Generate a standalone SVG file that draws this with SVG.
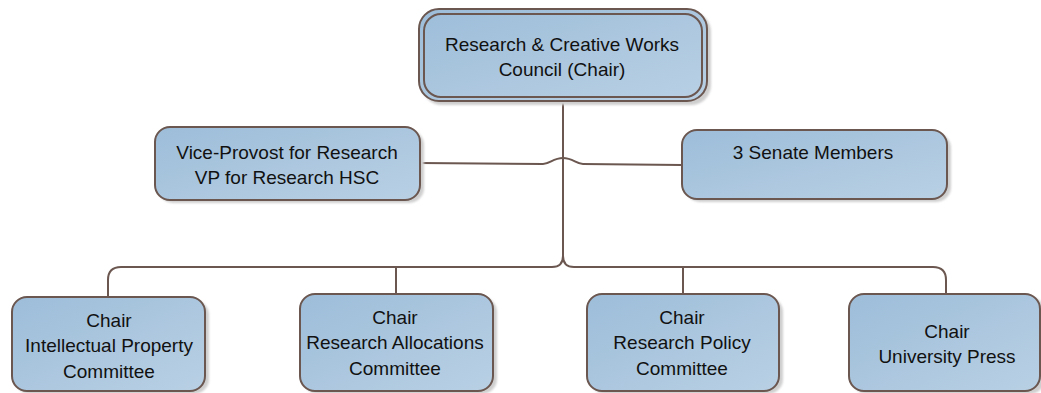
<svg xmlns="http://www.w3.org/2000/svg" width="1041" height="393" viewBox="0 0 1041 393">
<defs>
<linearGradient id="g" x1="0" y1="0" x2="1" y2="1">
<stop offset="0" stop-color="#9dbdd9"/>
<stop offset="1" stop-color="#b9d0e4"/>
</linearGradient>
<filter id="sh" x="-5%" y="-5%" width="115%" height="125%">
<feGaussianBlur stdDeviation="1.2"/>
</filter>
</defs>
<style>
.sh{fill:#cfcfcf;filter:url(#sh)}
.box{fill:url(#g);stroke:#6b5750;stroke-width:2}
.ln{fill:none;stroke:#6b5750;stroke-width:2}
text{font-family:"Liberation Sans",Arial,sans-serif;font-size:19px;fill:#111;text-anchor:middle}
</style>
<rect width="1041" height="393" fill="#ffffff"/>
<g id="connectors">
<path class="ln" d="M563,80 V256"/>
<path class="ln" d="M420,163 L543,164 C550,164 553,158 563,158 C573,158 576,164 583,164 L682,165"/>
<path class="ln" d="M108,296 V280 Q108,267 121,267 H552 Q563,267 563,256 Q563,267 574,267 H933 Q946,267 946,280 V294"/>
<path class="ln" d="M396,267 V294"/>
<path class="ln" d="M683,267 V294"/>
</g>
<g id="n-council">
<rect class="sh" x="422" y="12" width="289" height="93" rx="20"/>
<rect class="box" x="419" y="9" width="288" height="92" rx="20"/>
<rect class="ln" x="424" y="14" width="278" height="83" rx="17"/>
<text x="562" y="51">Research &amp; Creative Works</text>
<text x="562" y="76">Council (Chair)</text>
</g>
<g id="n-vp">
<rect class="sh" x="158" y="130" width="266" height="73" rx="15"/>
<rect class="box" x="155" y="127" width="265" height="73" rx="15"/>
<text x="287" y="159">Vice-Provost for Research</text>
<text x="287" y="184">VP for Research HSC</text>
</g>
<g id="n-senate">
<rect class="sh" x="685" y="133" width="266" height="69" rx="15"/>
<rect class="box" x="682" y="130" width="265" height="69" rx="15"/>
<text x="813" y="159">3 Senate Members</text>
</g>
<g id="n-ip">
<rect class="sh" x="15" y="300" width="194" height="94" rx="15"/>
<rect class="box" x="12" y="297" width="193" height="94" rx="15"/>
<text x="109" y="327">Chair</text>
<text x="109" y="352">Intellectual Property</text>
<text x="109" y="378">Committee</text>
</g>
<g id="n-alloc">
<rect class="sh" x="303" y="297" width="194" height="97" rx="15"/>
<rect class="box" x="300" y="294" width="193" height="97" rx="15"/>
<text x="395" y="324">Chair</text>
<text x="395" y="349">Research Allocations</text>
<text x="395" y="375">Committee</text>
</g>
<g id="n-policy">
<rect class="sh" x="590" y="297" width="193" height="97" rx="15"/>
<rect class="box" x="587" y="294" width="192" height="97" rx="15"/>
<text x="682" y="324">Chair</text>
<text x="682" y="349">Research Policy</text>
<text x="682" y="375">Committee</text>
</g>
<g id="n-press">
<rect class="sh" x="852" y="297" width="193" height="97" rx="15"/>
<rect class="box" x="849" y="294" width="191" height="97" rx="15"/>
<text x="947" y="338">Chair</text>
<text x="947" y="363">University Press</text>
</g>
</svg>
